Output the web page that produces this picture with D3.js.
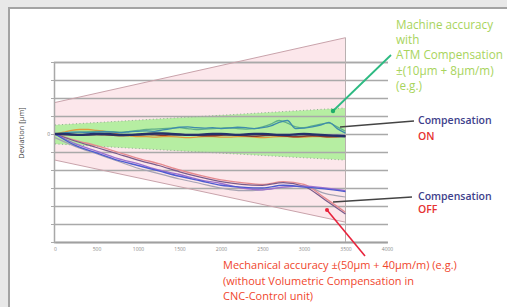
<!DOCTYPE html>
<html><head><meta charset="utf-8">
<script src="https://cdn.jsdelivr.net/npm/d3@7"></script>
<style>html,body{margin:0;padding:0;background:#e8e8e8;}svg{display:block;}</style>
</head><body>
<svg id="c" width="507" height="307"></svg>
<script>
// ---- data ----
const xTicks = [0,500,1000,1500,2000,2500,3000,3500,4000];
const yTicks = [-120,-100,-80,-60,-40,-20,0,20,40,60,80];
const xEnd = 3500;
// tolerance bands (µm) at x = 0 and x = 3500 mm
const bandX = [0, 3500];
const mechUpper = [35, 107];
const mechLower = [-29, -98];
const atmUpper = [10, 29];
const atmLower = [-11, -29];
// Compensation ON runs, sampled every 100 mm
const onX = d3.range(0, 3501, 100);
const onNavy  = [0,0,-0.5,-1,-0.5,0,0,-0.5,-1,-1,-0.5,0,0.5,0.5,0,-0.5,-1,-1,-0.5,0,0,-0.5,-1,-0.5,0,0,-0.5,-1,-1,-0.5,0,-0.5,-1,-1.5,-2,-2.5];
const onTeal  = [0,1,2,2,1.5,2,2.5,2,1.5,2.5,3,3.5,3,4.5,6,7.5,8,7,6.5,7,6,6.5,7.5,7,6,7,9,13,15,6,6.5,8,10,13,6,1];
const onGreen = [0,1,1.5,2,2.5,3,3,2.5,2,3,4,5,5.5,6,6.5,7,6,5,5.5,6,6.5,7,6,5.5,6,8,11,15,12,8,7,9,11,12,8,3];
const onOrange= [0,2,4,5,5,4,3,1,-1,-2,-3,-3,-3.5,-3,-3,-3.5,-4,-3.5,-3,-3,-3.5,-3.5,-3,-3,-3.5,-4,-3.5,-3,-3,-3.5,-3.5,-3,-3,-3.5,-3,-2];
const onBrown = [0,-0.5,-1,-1.5,-1,-0.5,-1,-1.5,-2,-1.5,-1,-0.5,-1,-1.5,-1,-0.5,-1,-1.5,-2,-2,-1.5,-1,-1.5,-2,-2.5,-2,-1.5,-2,-2.5,-3,-2.5,-2,-2.5,-3,-3,-2.5];
// Compensation OFF runs, sampled every 250 mm
const offX = d3.range(0, 3501, 250);
const offBlue   = [0,-13,-21,-29,-35,-41,-47,-52,-57,-59,-60,-57,-59,-61,-64];
const offPurple = [0,-11,-19,-27,-33,-40,-45,-51,-55,-60,-62,-59,-58,-60,-63];
const offPink   = [0,-7,-13,-20,-27,-33,-40,-46,-51,-54,-56,-53,-56,-71,-87];
const offDark   = [0,-8,-15,-22,-29,-35,-42,-48,-53,-56,-57,-54,-58,-73,-89];
const offGrey   = [-4,-14,-22,-30,-38,-44,-50,-55,-60,-63,-62,-59,-58,-66,-70];

// ---- drawing ----
const svg = d3.select("#c");
svg.append("rect").attr("x",9).attr("y",8).attr("width",510).attr("height",310)
  .attr("fill","#fff").attr("stroke","#a3a3a3").attr("stroke-width",2);

const x = d3.scaleLinear().domain([0,4000]).range([55,387]);
const y = d3.scaleLinear().domain([-120,80]).range([242,62]);

const g = svg.append("g");

// pink mechanical band
const area = d3.area().x((d,i)=>x(bandX[i])).y0(d=>y(d[0])).y1(d=>y(d[1]));
g.append("path").datum(bandX.map((_,i)=>[mechLower[i],mechUpper[i]]))
  .attr("d",area).attr("fill","#fce7eb");
// green ATM band
g.append("path").datum(bandX.map((_,i)=>[atmLower[i],atmUpper[i]]))
  .attr("d",area).attr("fill","#b6eea2");

// grid (y axis)
const yAx = g.append("g").attr("transform",`translate(${x(0)-1},0)`)
  .call(d3.axisLeft(y).tickValues(yTicks).tickSize(-(x(4000)-x(0)+2)).tickFormat(d=>d===0?"0":""));
yAx.select(".domain").attr("stroke","#a8a8a8").attr("stroke-width",1.5);
yAx.selectAll(".tick line").attr("stroke","#a9a9a9").attr("stroke-width",1.6);
yAx.selectAll(".tick text").attr("font-size",5).attr("fill","#777").attr("x",-4).attr("font-family","Open Sans");
yAx.selectAll(".tick").append("line").attr("x1",-3).attr("x2",0).attr("stroke","#aaa");

const ln = d3.line().x((d,i)=>x(bandX[i])).y(d=>y(d));
[atmUpper, atmLower].forEach(a=>{
  g.append("path").datum(a).attr("d",ln).attr("fill","none")
   .attr("stroke","#8fae8f").attr("stroke-width",1).attr("stroke-dasharray","1,2.5");
});
// mech band edges
[mechUpper, mechLower].forEach(a=>{
  g.append("path").datum(a).attr("d",ln).attr("fill","none")
   .attr("stroke","#c9a3ab").attr("stroke-width",1);
});
// end vertical line
g.append("line").attr("x1",x(xEnd)).attr("x2",x(xEnd)).attr("y1",y(mechUpper[1])).attr("y2",y(-120))
  .attr("stroke","#b8b0b0").attr("stroke-width",1);

// x axis
const xAx = g.append("g").attr("transform",`translate(0,${y(-120)})`)
  .call(d3.axisBottom(x).tickValues(xTicks).tickSize(0).tickPadding(5).tickFormat(d3.format("d")));
xAx.select(".domain").attr("stroke","#a0a0a0").attr("stroke-width",1.6);
xAx.selectAll(".tick text").attr("font-size",5).attr("fill","#8a8a8a").attr("font-family","Open Sans");

// series
const lineOn = d3.line().x((d,i)=>x(onX[i])).y(d=>y(d)).curve(d3.curveMonotoneX);
const lineOff = d3.line().x((d,i)=>x(offX[i])).y(d=>y(d)).curve(d3.curveMonotoneX);
[[offGrey,"#a6a3b3",1.2],[offPink,"#e58a8f",1.3],[offDark,"#7a5a8a",1.2],[offPurple,"#9b6fcf",1.3],[offBlue,"#4d5bd0",1.4]]
 .forEach(([d,c,w])=>g.append("path").datum(d).attr("d",lineOff).attr("fill","none").attr("stroke",c).attr("stroke-width",w));
[[onOrange,"#e49a3c",1.3],[onGreen,"#5fae8a",1.3],[onTeal,"#3f8cab",1.3],[onBrown,"#8c3b2e",1.4],[onNavy,"#25306a",2.4]]
 .forEach(([d,c,w])=>g.append("path").datum(d).attr("d",lineOn).attr("fill","none").attr("stroke",c).attr("stroke-width",w));

// y label
svg.append("text").attr("transform","translate(24,133) rotate(-90)").attr("text-anchor","middle")
  .attr("font-family","Open Sans").attr("font-size",7.5).attr("fill","#444").text("Deviation [µm]");

// annotations
const ann = svg.append("g").attr("font-family","Open Sans");
// green
const gText = ["Machine accuracy","with","ATM Compensation","±(10µm + 8µm/m)","(e.g.)"];
gText.forEach((t,i)=>ann.append("text").attr("x",396).attr("y",29+i*15.2).attr("font-size",11.7)
  .attr("fill","#a8d45c").text(t));
ann.append("line").attr("x1",391).attr("y1",55).attr("x2",333).attr("y2",111)
  .attr("stroke","#2dba82").attr("stroke-width",1.8);
ann.append("circle").attr("cx",333).attr("cy",111).attr("r",2.2).attr("fill","#1fae6a");
// ON
ann.append("line").attr("x1",340).attr("y1",127).attr("x2",414).attr("y2",121).attr("stroke","#444").attr("stroke-width",1.5);
ann.append("text").attr("x",418).attr("y",124).attr("font-size",10.5).attr("font-weight",600).attr("fill","#3e3f8c").text("Compensation");
ann.append("text").attr("x",418).attr("y",140).attr("font-size",10.5).attr("font-weight",600).attr("fill","#e63232").text("ON");
// OFF
ann.append("line").attr("x1",333).attr("y1",202).attr("x2",412).attr("y2",197).attr("stroke","#444").attr("stroke-width",1.5);
ann.append("text").attr("x",418).attr("y",200).attr("font-size",10.5).attr("font-weight",600).attr("fill","#3e3f8c").text("Compensation");
ann.append("text").attr("x",418).attr("y",213).attr("font-size",10.5).attr("font-weight",600).attr("fill","#e63232").text("OFF");
// red
ann.append("line").attr("x1",365).attr("y1",256).attr("x2",327).attr("y2",210).attr("stroke","#e8233c").attr("stroke-width",1.6);
ann.append("circle").attr("cx",327).attr("cy",210).attr("r",2).attr("fill","#e8233c");
const rText = ["Mechanical accuracy ±(50µm + 40µm/m) (e.g.)","(without Volumetric Compensation in","CNC-Control unit)"];
rText.forEach((t,i)=>ann.append("text").attr("x",223).attr("y",269+i*15.5).attr("font-size",11)
  .attr("fill","#f0462c").text(t));
</script>
</body></html>
